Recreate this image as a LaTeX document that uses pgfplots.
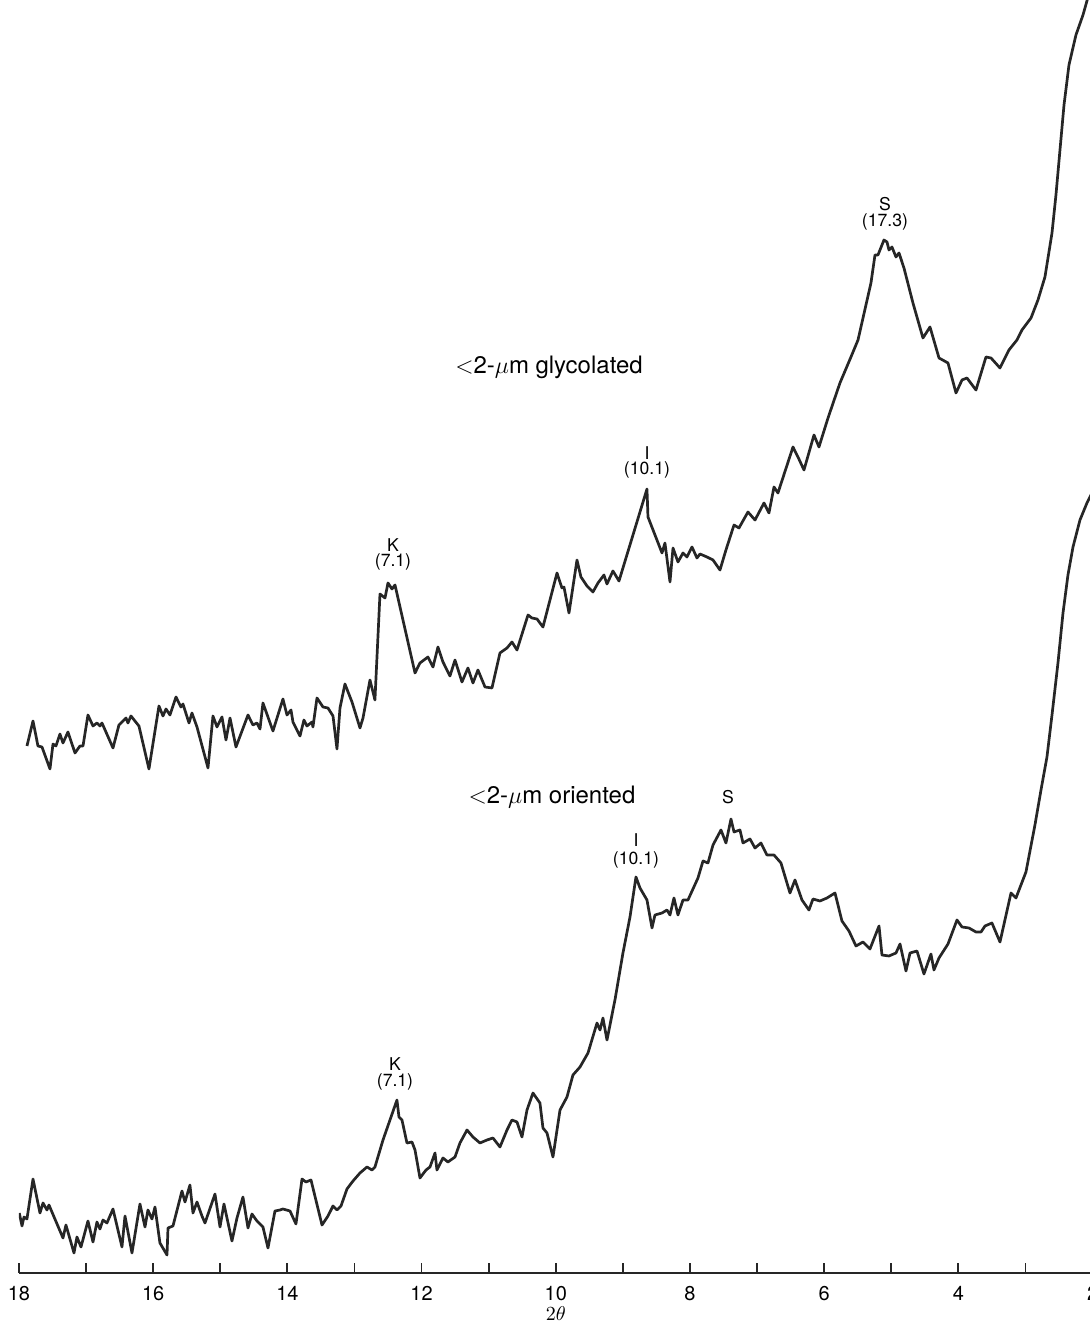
\documentclass[border=0pt]{standalone}
\usepackage{pgfplots}
\usepackage{pgfplotstable}
\usepackage{fontspec}
\setmainfont{TeX Gyre Heros}
\pgfplotsset{compat=1.18}

% 2theta (deg) vs. intensity (arbitrary units, height above the base line)
\pgfplotstableread{
x y
17.881 527
17.791 552
17.717 527
17.657 526
17.538 504
17.493 529
17.449 527
17.389 539
17.344 530
17.270 541
17.165 520
17.091 527
17.046 527
16.972 558
16.897 547
16.838 550
16.793 547
16.763 550
16.599 525
16.510 548
16.405 555
16.376 550
16.331 557
16.212 547
16.063 504
15.914 567
15.854 557
15.809 564
15.750 558
15.660 576
15.586 566
15.556 569
15.466 550
15.422 560
15.347 546
15.183 505
15.109 557
15.049 546
14.975 556
14.915 533
14.855 555
14.766 526
14.587 558
14.513 548
14.453 550
14.408 544
14.364 570
14.215 542
14.066 574
14.006 558
13.946 563
13.917 551
13.812 537
13.753 553
13.708 547
13.633 551
13.619 546
13.559 575
13.469 566
13.395 565
13.320 557
13.261 524
13.216 565
13.142 589
13.037 571
12.918 545
12.873 555
12.769 593
12.695 573
12.620 679
12.545 675
12.501 690
12.441 684
12.396 688
12.098 600
12.024 610
11.905 616
11.830 606
11.756 626
11.681 611
11.577 597
11.502 613
11.398 591
11.309 605
11.234 590
11.160 603
11.055 586
10.951 585
10.832 620
10.727 625
10.653 631
10.578 623
10.414 658
10.355 655
10.280 654
10.191 646
9.982 700
9.908 685
9.878 686
9.803 660
9.684 713
9.625 696
9.535 687
9.446 681
9.371 690
9.282 698
9.237 689
9.148 702
9.058 692
8.641 784
8.626 756
8.417 720
8.373 730
8.298 691
8.253 725
8.179 711
8.104 720
8.045 716
7.970 726
7.896 715
7.851 719
7.747 716
7.657 713
7.553 703
7.464 723
7.344 748
7.270 745
7.136 761
7.031 753
6.897 770
6.823 760
6.748 786
6.689 780
6.465 826
6.391 816
6.301 803
6.152 838
6.078 826
5.943 855
5.765 890
5.601 916
5.496 933
5.303 990
5.243 1018
5.198 1018
5.109 1033
5.064 1031
5.034 1023
4.990 1026
4.930 1016
4.885 1020
4.811 1005
4.677 970
4.528 935
4.423 946
4.289 915
4.155 910
4.036 880
3.946 893
3.872 895
3.738 883
3.589 916
3.514 915
3.380 905
3.246 923
3.127 933
3.052 943
2.918 955
2.814 973
2.710 996
2.605 1040
2.546 1078
2.486 1123
2.426 1168
2.352 1208
2.248 1238
2.143 1258
2.009 1290
}\glycolated

\pgfplotstableread{
x y
17.995 60
17.955 47
17.925 56
17.881 54
17.791 94
17.687 60
17.642 70
17.583 63
17.553 68
17.344 35
17.300 48
17.180 20
17.136 36
17.076 26
16.972 52
16.897 31
16.838 51
16.793 44
16.748 53
16.689 50
16.599 64
16.465 26
16.420 57
16.316 20
16.197 69
16.122 46
16.078 63
16.018 54
15.973 66
15.899 30
15.794 18
15.779 45
15.705 47
15.571 82
15.526 71
15.452 88
15.407 60
15.347 71
15.273 57
15.228 50
15.079 79
15.004 46
14.945 69
14.826 32
14.751 55
14.662 76
14.587 45
14.528 59
14.453 52
14.364 46
14.289 25
14.185 62
14.110 63
14.066 64
13.961 62
13.872 49
13.782 94
13.723 91
13.648 93
13.484 48
13.395 57
13.320 67
13.261 63
13.201 67
13.112 84
13.022 92
12.918 100
12.814 106
12.739 103
12.695 106
12.575 133
12.471 153
12.367 173
12.337 156
12.292 153
12.218 130
12.143 131
12.098 123
12.024 95
11.934 103
11.875 106
11.800 120
11.771 103
11.681 115
11.607 111
11.502 116
11.428 130
11.323 143
11.234 136
11.130 130
11.025 133
10.936 135
10.832 126
10.727 143
10.653 153
10.578 151
10.504 136
10.429 163
10.340 180
10.236 170
10.191 145
10.131 140
10.042 116
9.937 163
9.833 176
9.744 198
9.639 206
9.520 220
9.386 250
9.341 243
9.297 255
9.237 233
9.118 273
8.999 320
8.894 356
8.805 396
8.745 385
8.641 373
8.566 345
8.522 358
8.417 360
8.343 363
8.298 358
8.239 375
8.179 358
8.104 373
8.030 373
7.881 395
7.806 412
7.732 410
7.657 428
7.538 443
7.464 430
7.389 454
7.344 441
7.255 443
7.210 430
7.106 434
7.031 425
6.942 430
6.853 418
6.748 418
6.644 410
6.510 380
6.435 393
6.331 373
6.227 363
6.167 374
6.063 372
5.958 375
5.839 380
5.735 352
5.631 342
5.526 327
5.422 331
5.318 324
5.183 347
5.139 318
5.034 317
4.930 320
4.870 329
4.781 302
4.721 320
4.617 322
4.513 299
4.409 319
4.364 303
4.289 315
4.155 329
4.021 353
3.946 346
3.842 345
3.738 341
3.663 341
3.604 347
3.500 350
3.380 331
3.216 380
3.142 375
2.993 401
2.859 448
2.769 483
2.680 516
2.605 558
2.516 610
2.441 660
2.367 698
2.292 726
2.188 753
2.084 770
2.009 780
}\oriented

\begin{document}
\begin{tikzpicture}[font=\fontsize{12}{14}\selectfont]
\begin{axis}[
    x=33.55pt, y=0.5pt,
    xmin=2, xmax=18, ymin=0, ymax=1273,
    x dir=reverse,
    enlargelimits=false,
    axis x line=bottom,
    axis y line=none,
    axis line style={-, line width=0.9pt, black!85},
    xtick={2,4,...,18},
    minor xtick={3,5,...,17},
    tick align=inside,
    major tick length=5pt,
    minor tick length=5pt,
    tick style={line width=0.9pt, black!85},
    /pgf/number format/assume math mode=true,
    xticklabel style={font=\fontsize{10}{12}\selectfont, yshift=-3pt},
    xlabel={$2\theta$},
    xlabel style={font=\fontsize{10}{11}\selectfont, yshift=4pt},
  ]
  \addplot[black!85, line width=1.35pt, line join=round] table {\glycolated};
  \addplot[black!85, line width=1.35pt, line join=round] table {\oriented};

  \node at (axis cs:10.101,906) {$<$2-$\mu$m glycolated};
  \node at (axis cs:10.057,476) {$<$2-$\mu$m oriented};

  \begin{scope}[font=\fontsize{8.8}{10}\selectfont]
    \node at (axis cs:5.094,1069) {S};
    \node at (axis cs:5.094,1051) {(17.3)};
    \node at (axis cs:8.641,820) {I};
    \node at (axis cs:8.641,803) {(10.1)};
    \node at (axis cs:12.426,728) {K};
    \node at (axis cs:12.426,711) {(7.1)};
    \node at (axis cs:7.434,476) {S};
    \node at (axis cs:8.805,433) {I};
    \node at (axis cs:8.805,413) {(10.1)};
    \node at (axis cs:12.396,209) {K};
    \node at (axis cs:12.396,191) {(7.1)};
  \end{scope}

  \coordinate (bbsw) at (axis cs:18.283,-52);
  \coordinate (bbne) at (axis cs:2.039,1273);
\end{axis}
\pgfresetboundingbox
\path[use as bounding box] (bbsw) rectangle (bbne);
\end{tikzpicture}
\end{document}
